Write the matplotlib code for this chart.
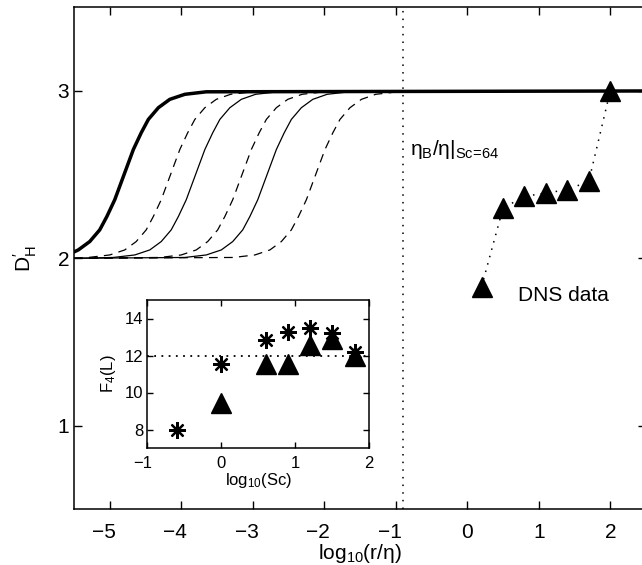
import matplotlib
matplotlib.use("Agg")
import matplotlib.pyplot as plt
from matplotlib.transforms import ScaledTranslation

plt.rcParams['font.family'] = ['Liberation Sans', 'DejaVu Sans']
plt.rcParams['mathtext.fontset'] = 'custom'
plt.rcParams['mathtext.rm'] = 'Liberation Sans'
plt.rcParams['mathtext.it'] = 'Liberation Sans:italic'
plt.rcParams['mathtext.default'] = 'regular'

# --- model curves D'_H(r) ---
thick_x = [-5.5, -5.44, -5.28, -5.14, -5.04, -4.93, -4.80, -4.67, -4.56, -4.46, -4.32, -4.16, -3.95, -3.65, 2.5]
thick_y = [2.038, 2.05, 2.10, 2.17, 2.25, 2.35, 2.50, 2.65, 2.75, 2.83, 2.90, 2.95, 2.98, 2.995, 3.0]

thin_y = [2.0, 2.005, 2.02, 2.05, 2.10, 2.17, 2.25, 2.35, 2.50, 2.65, 2.75, 2.83, 2.90, 2.95, 2.98, 2.995, 3.0]
dash1_x = [-5.5, -5.30, -5.00, -4.79, -4.63, -4.49, -4.39, -4.28, -4.15, -4.02, -3.91, -3.81, -3.67, -3.51, -3.31, -3.00, 2.5]
solid2_x = [-5.5, -4.95, -4.65, -4.44, -4.28, -4.14, -4.04, -3.93, -3.80, -3.67, -3.56, -3.46, -3.32, -3.16, -2.96, -2.65, 2.5]
dash2_x = [-5.5, -4.30, -4.00, -3.79, -3.63, -3.49, -3.39, -3.28, -3.15, -3.02, -2.91, -2.81, -2.67, -2.51, -2.31, -2.00, 2.5]
solid3_x = [-5.5, -3.95, -3.65, -3.44, -3.28, -3.14, -3.04, -2.93, -2.80, -2.67, -2.56, -2.46, -2.32, -2.16, -1.96, -1.65, 2.5]
dash3_x = [-5.5, -3.27, -2.97, -2.76, -2.60, -2.46, -2.36, -2.25, -2.12, -1.99, -1.88, -1.78, -1.64, -1.48, -1.28, -0.97, 2.5]

# --- DNS data ---
dns_x = [0.2, 0.5, 0.8, 1.1, 1.4, 1.7, 2.0]
dns_y = [1.83, 2.30, 2.37, 2.39, 2.41, 2.46, 3.0]

eta_b_line = -0.903  # log10(64^-1/2)

# --- inset: F4(L) vs log10(Sc) ---
star_x = [-0.6, 0.0, 0.6, 0.9, 1.2, 1.5, 1.8]
star_y = [8.0, 11.55, 12.83, 13.28, 13.46, 13.19, 12.2]
tri_x = [0.0, 0.6, 0.9, 1.2, 1.5, 1.8]
tri_y = [9.45, 11.52, 11.55, 12.58, 12.87, 11.95]
f4_ref = 12

W, H = 642, 565
fig = plt.figure(figsize=(W / 100, H / 100), dpi=100)
ax = fig.add_axes([74 / W, 1 - 509.3 / H, 572 / W, 502 / H])

ax.plot(thick_x, thick_y, 'k-', lw=2.5)
ax.plot(dash1_x, thin_y, 'k--', lw=0.9, dashes=(7, 5))
ax.plot(solid2_x, thin_y, 'k-', lw=0.9)
ax.plot(dash2_x, thin_y, 'k--', lw=0.9, dashes=(7, 5))
ax.plot(solid3_x, thin_y, 'k-', lw=0.9)
ax.plot(dash3_x, thin_y, 'k--', lw=0.9, dashes=(7, 5))

ax.axvline(eta_b_line, color='k', lw=1.1, ls=(0, (1, 4)))
ax.plot(dns_x, dns_y, color='k', lw=1.1, ls=(0, (1, 4)))
ax.plot(dns_x, dns_y, 'k^', ls='none', ms=15)

ax.text(-0.80, 2.616, "η$_\\mathrm{B}$/η|$_\\mathrm{Sc\\!=\\!64}$", fontsize=15, va='baseline')
ax.text(0.71, 1.746, "DNS data", fontsize=15, va='baseline')

ax.set_xlim(-5.5, 2.5)
ax.set_ylim(0.5, 3.5)
ax.set_xticks(range(-5, 3))
ax.set_yticks([1, 2, 3])
ax.set_xticklabels(["\u22125", "\u22124", "\u22123", "\u22122", "\u22121", "0", "1", "2"])
ax.tick_params(direction='in', length=6, width=1, labelsize=15, top=True, right=True)
ax.tick_params(axis='x', pad=10)
ax.tick_params(axis='y', pad=3.5)
for s in ax.spines.values():
    s.set_linewidth(1.1)
ax.set_xlabel("log$_{10}$(r/η)", fontsize=15, labelpad=0)
ax.set_ylabel("D$^{\\prime}_\\mathrm{H}$", fontsize=15, labelpad=13)

# inset
ins = fig.add_axes([147.3 / W, 1 - 448 / H, 222 / W, 148 / H])
ins.axhline(f4_ref, color='k', lw=1.3, ls=(0, (1, 3)))
ins.plot(star_x, star_y, ls='none', marker=(8, 2, 0), ms=12, mew=1.6, color='k')
ins.plot(tri_x, tri_y, 'k^', ls='none', ms=15)
ins.set_xlim(-1, 2)
ins.set_ylim(7, 15)
ins.set_xticks([-1, 0, 1, 2])
ins.set_xticklabels(["\u22121", "0", "1", "2"])
ins.set_yticks([8, 10, 12, 14])
ins.tick_params(direction='in', length=4, width=1, labelsize=12, top=True, right=True)
ins.tick_params(axis='x', pad=6)
ins.tick_params(axis='y', pad=3)
for s in ins.spines.values():
    s.set_linewidth(1.1)
ins.set_xlabel("log$_{10}$(Sc)", fontsize=12, labelpad=0)
ins.set_ylabel("F$_4$(L)", fontsize=12, labelpad=5)

# MATLAB-style placement: negative tick labels sit a little left of their tick
for a, shift in ((ax, 6), (ins, 5)):
    for lab in a.get_xticklabels():
        if lab.get_text().startswith("\u2212"):
            lab.set_transform(lab.get_transform() + ScaledTranslation(-shift / 100, 0, fig.dpi_scale_trans))

fig.savefig("out.png", dpi=100)
